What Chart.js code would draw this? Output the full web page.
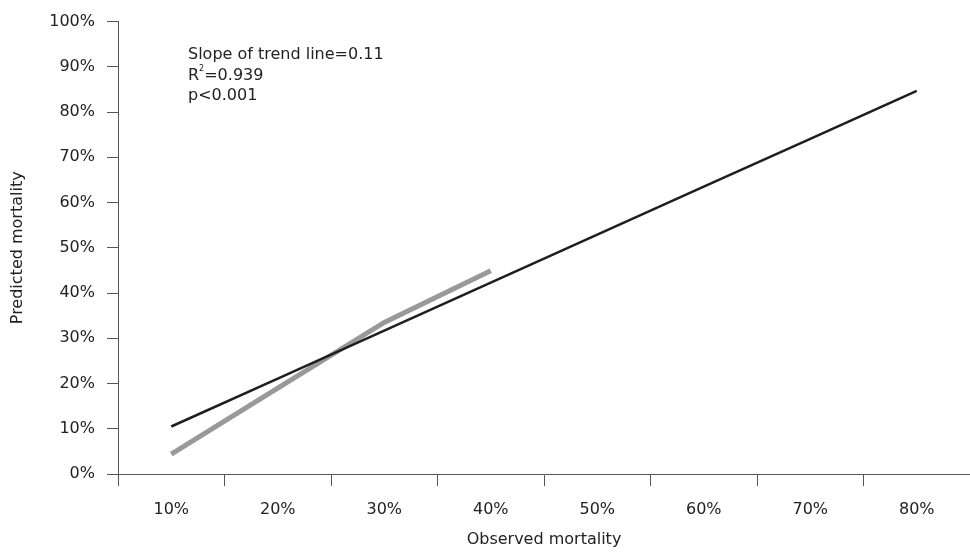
<!DOCTYPE html>
<html>
<head>
<meta charset="utf-8">
<script src="https://cdn.jsdelivr.net/npm/chart.js@4"></script>
<style>
  html, body { margin: 0; padding: 0; background: #fff; }
  #wrap { width: 970px; height: 553px; }
</style>
</head>
<body>
<div id="wrap"><canvas id="myChart" width="970" height="553"></canvas></div>
<script>
// Observed mortality categories (x axis)
var observed = ['10%', '20%', '30%', '40%', '50%', '60%', '70%', '80%'];
// Predicted mortality (percent)
var predicted = [4.4, 19.0, 33.5, 44.9, null, null, null, null];
// Trend line values (percent)
var trend = [10.5, 21.1, 31.7, 42.3, 52.9, 63.5, 74.1, 84.7];
// Text block in the upper left
var notes = ['Slope of trend line=0.11', 'R', '=0.939', 'p<0.001'];

var fontFamily = '"DejaVu Sans", "Liberation Sans", Arial, sans-serif';
var textColor = '#222';
var axisColor = '#555';

// draws the three lines of text in the top left corner
var notePlugin = {
    id: 'notes',
    afterDraw: function (chart) {
        var c = chart.ctx;
        c.save();
        c.fillStyle = textColor;
        c.textBaseline = 'alphabetic';
        c.textAlign = 'left';
        c.font = '16px ' + fontFamily;
        var x = 188;
        c.fillText(notes[0], x, 59);
        c.fillText(notes[1], x, 80);
        var w = c.measureText(notes[1]).width;
        c.font = '8px ' + fontFamily;
        c.fillText('2', x + w, 71);
        var w2 = c.measureText('2').width;
        c.font = '16px ' + fontFamily;
        c.fillText(notes[2], x + w + w2, 80);
        c.fillText(notes[3], x, 100);
        c.restore();
    }
};

var ctx = document.getElementById('myChart').getContext('2d');

var myChart = new Chart(ctx, {
    type: 'line',
    data: {
        labels: observed,
        datasets: [{
            label: 'Trend',
            data: trend,
            borderColor: '#1e1e1e',
            borderWidth: 2.5,
            pointRadius: 0,
            fill: false,
            tension: 0
        }, {
            label: 'Predicted',
            data: predicted,
            borderColor: '#999999',
            borderWidth: 5,
            pointRadius: 0,
            fill: false,
            tension: 0
        }]
    },
    options: {
        responsive: false,
        animation: false,
        layout: { padding: { top: 8, right: 0, left: 0, bottom: 4 } },
        plugins: {
            legend: { display: false },
            tooltip: { enabled: false }
        },
        scales: {
            x: {
                type: 'category',
                offset: true,
                grid: {
                    display: true,
                    offset: true,
                    drawOnChartArea: false,
                    drawTicks: true,
                    tickLength: 12,
                    color: axisColor
                },
                border: { display: true, color: axisColor, width: 1 },
                ticks: {
                    color: textColor,
                    font: { family: fontFamily, size: 16 },
                    padding: 14,
                    maxRotation: 0,
                    autoSkip: false
                },
                title: {
                    display: true,
                    text: 'Observed mortality',
                    color: textColor,
                    font: { family: fontFamily, size: 16 },
                    padding: { top: 5, bottom: 0 }
                },
                afterFit: function (scale) { scale.height = 75; }
            },
            y: {
                min: 0,
                max: 100,
                grid: {
                    display: true,
                    drawOnChartArea: false,
                    drawTicks: true,
                    tickLength: 11,
                    color: axisColor
                },
                border: { display: true, color: axisColor, width: 1 },
                ticks: {
                    stepSize: 10,
                    color: textColor,
                    font: { family: fontFamily, size: 16 },
                    padding: 12,
                    callback: function (v) { return v + '%'; }
                },
                title: {
                    display: true,
                    text: 'Predicted mortality',
                    color: textColor,
                    font: { family: fontFamily, size: 16 },
                    padding: { top: 8, bottom: 6 }
                },
                afterFit: function (scale) { scale.width = 118; }
            }
        }
    },
    plugins: [notePlugin]
});
</script>
</body>
</html>
